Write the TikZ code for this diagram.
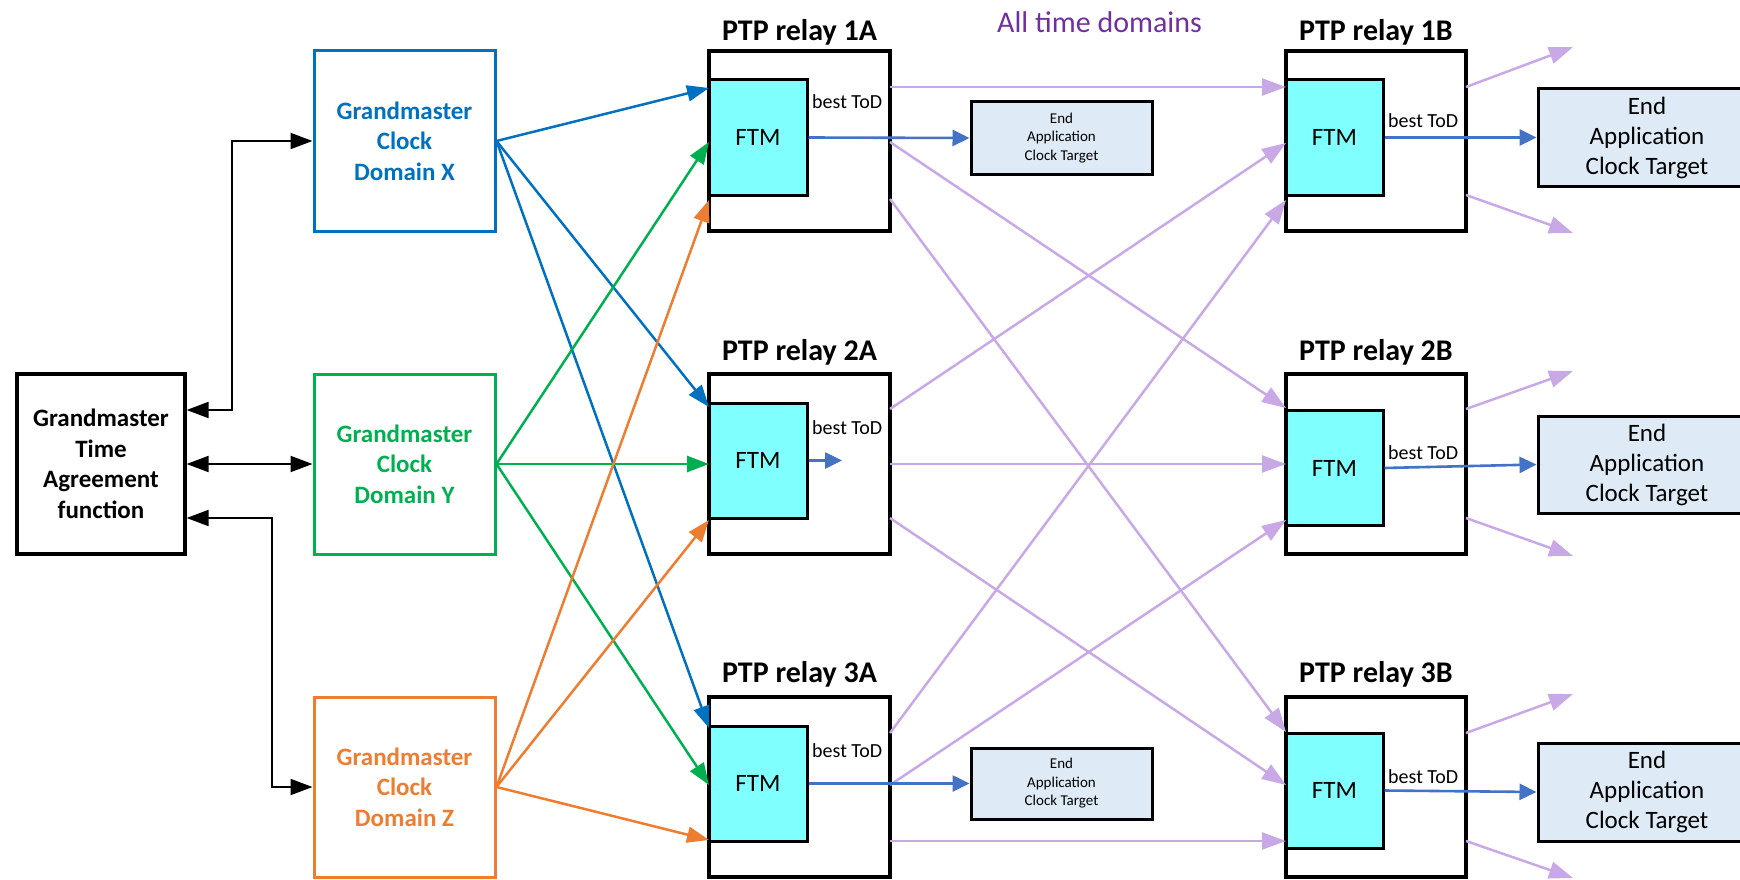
\documentclass[tikz,border=0pt]{standalone}
\usepackage{fontspec}
\setmainfont{Carlito}
\usetikzlibrary{arrows.meta}
\definecolor{cX}{HTML}{0070C0}
\definecolor{cY}{HTML}{00B050}
\definecolor{cZ}{HTML}{ED7D31}
\definecolor{cP}{HTML}{C8A9E6}
\definecolor{cPt}{HTML}{7030A0}
\definecolor{cF}{HTML}{80FFFF}
\definecolor{cE}{HTML}{DEEBF7}
\definecolor{cB}{HTML}{4472C4}
\begin{document}
\begin{tikzpicture}[x=1pt,y=-1pt,
  gm/.style={draw=#1, text=#1, line width=3pt, minimum width=181pt, minimum height=180pt, inner sep=0pt, align=center, font=\fontsize{25}{30.5}\selectfont\bfseries},
  gtabox/.style={draw, line width=3.2pt, minimum width=168pt, minimum height=180pt, inner sep=0pt, align=center, font=\fontsize{25}{30.5}\selectfont\bfseries},
  relay/.style={draw, fill=white, line width=3.4pt, minimum width=#1, minimum height=180pt, inner sep=0pt},
  ftm/.style={draw, fill=cF, line width=3pt, minimum width=#1, minimum height=115pt, inner sep=0pt, font=\fontsize{25}{30}\selectfont},
  endsmall/.style={draw, fill=cE, line width=3pt, minimum width=181pt, inner sep=0pt, align=center, font=\fontsize{15}{18.5}\selectfont},
  endbig/.style={draw, fill=cE, line width=3pt, minimum width=218pt, inner sep=0pt, align=center, font=\fontsize{25}{30}\selectfont},
  title/.style={anchor=base, inner sep=0pt, font=\fontsize{30}{36}\selectfont\bfseries},
  tod/.style={anchor=base west, inner sep=0pt, font=\fontsize{20}{24}\selectfont},
  carr/.style={draw=#1, line width=2.5pt, -{Triangle[length=22pt,width=16pt]}},
  parr/.style={draw=cP, line width=2.5pt, -{Triangle[length=24pt,width=17pt]}},
  barr/.style={draw=cB, line width=2.6pt, -{Triangle[length=17pt,width=16pt]}},
  blk/.style={line width=2pt, {Triangle[length=22pt,width=16pt]}-{Triangle[length=22pt,width=16pt]}}
]
\useasboundingbox (0,0) rectangle (1740,880);

% title of purple links
\node[anchor=base west, inner sep=0pt, text=cPt, font=\fontsize{30}{36}\selectfont] (atd) at (997,33) {All time domains};

% grandmaster boxes
\node[gtabox] (gta) at (101,464) {Grandmaster\\Time\\Agreement\\function};
\node[gm=cX] (gx) at (404.5,141) {Grandmaster\\Clock\\Domain X};
\node[gm=cY] (gy) at (404.5,464) {Grandmaster\\Clock\\Domain Y};
\node[gm=cZ] (gz) at (404.5,787) {Grandmaster\\Clock\\Domain Z};

% relays A
\node[relay=181pt] (r1a) at (799.5,141) {};
\node[relay=181pt] (r2a) at (799.5,464) {};
\node[relay=181pt] (r3a) at (799.5,787) {};
\node[ftm=98pt] (f1a) at (758,137.5) {FTM};
\node[ftm=98pt] (f2a) at (758,460.5) {FTM};
\node[ftm=98pt] (f3a) at (758,783.5) {FTM};
\node[title] (t1a) at (799.5,41) {PTP relay 1A};
\node[title] (t2a) at (799.5,360) {PTP relay 2A};
\node[title] (t3a) at (799.5,682) {PTP relay 3A};
\node[tod] (d1a) at (812,109) {best ToD};
\node[tod] (d2a) at (812,434) {best ToD};
\node[tod] (d3a) at (812,757) {best ToD};

% relays B
\node[relay=180pt] (r1b) at (1376,141) {};
\node[relay=180pt] (r2b) at (1376,464) {};
\node[relay=180pt] (r3b) at (1376,787) {};
\node[ftm=97pt] (f1b) at (1334.5,137.5) {FTM};
\node[ftm=97pt] (f2b) at (1334.5,468) {FTM};
\node[ftm=97pt] (f3b) at (1334.5,790.5) {FTM};
\node[title] (t1b) at (1376,41) {PTP relay 1B};
\node[title] (t2b) at (1376,360) {PTP relay 2B};
\node[title] (t3b) at (1376,682) {PTP relay 3B};
\node[tod] (d1b) at (1388,128) {best ToD};
\node[tod] (d2b) at (1388,459) {best ToD};
\node[tod] (d3b) at (1388,783) {best ToD};

% end application targets
\node[endsmall, minimum height=72pt] (e1a) at (1061.5,138) {End\\Application\\Clock Target};
\node[endsmall, minimum height=71pt] (e3a) at (1061.5,783.5) {End\\Application\\Clock Target};
\node[endbig, minimum height=97pt] (e1b) at (1647,137.5) {End\\Application\\Clock Target};
\node[endbig, minimum height=97pt] (e2b) at (1647,464.5) {End\\Application\\Clock Target};
\node[endbig, minimum height=98pt] (e3b) at (1647,792) {End\\Application\\Clock Target};

% connection points
\coordinate (a1i1) at (709,88);  \coordinate (a1i2) at (709,142); \coordinate (a1i3) at (709,200);
\coordinate (a2i1) at (709,407); \coordinate (a2i2) at (709,464); \coordinate (a2i3) at (709,520);
\coordinate (a3i1) at (709,728); \coordinate (a3i2) at (709,785); \coordinate (a3i3) at (709,840);
\coordinate (a1o1) at (890,87);  \coordinate (a1o2) at (890,142); \coordinate (a1o3) at (890,199);
\coordinate (a2o1) at (890,409); \coordinate (a2o2) at (890,464); \coordinate (a2o3) at (890,518);
\coordinate (a3o1) at (890,733); \coordinate (a3o2) at (890,785); \coordinate (a3o3) at (890,841);
\coordinate (b1i1) at (1286,87);  \coordinate (b1i2) at (1286,143); \coordinate (b1i3) at (1286,200);
\coordinate (b2i1) at (1286,408); \coordinate (b2i2) at (1286,464); \coordinate (b2i3) at (1286,520);
\coordinate (b3i1) at (1286,732); \coordinate (b3i2) at (1286,785); \coordinate (b3i3) at (1286,841);
\coordinate (b1o1) at (1466,87);  \coordinate (b1o3) at (1466,195);
\coordinate (b2o1) at (1466,409); \coordinate (b2o3) at (1466,518);
\coordinate (b3o1) at (1466,733); \coordinate (b3o3) at (1466,841);
\coordinate (x1u) at (1573,47);  \coordinate (x1d) at (1573,233);
\coordinate (x2u) at (1573,371); \coordinate (x2d) at (1573,556);
\coordinate (x3u) at (1573,694); \coordinate (x3d) at (1573,878);
\coordinate (z2a) at (842,460.5);

% agreement function links
\draw[blk] ([yshift=54pt]gta.east) -- ++(45,0) |- (gx.west);
\draw[blk] (gta.east) -- (gy.west);
\draw[blk] ([yshift=-54pt]gta.east) -- ++(85,0) |- (gz.west);

% grandmaster to relays A
\draw[carr=cX] (gx.east) -- (a1i1);
\draw[carr=cX] (gx.east) -- (a2i1);
\draw[carr=cX] (gx.east) -- (a3i1);
\draw[carr=cY] (gy.east) -- (a1i2);
\draw[carr=cY] (gy.east) -- (a2i2);
\draw[carr=cY] (gy.east) -- (a3i2);
\draw[carr=cZ] (gz.east) -- (a1i3);
\draw[carr=cZ] (gz.east) -- (a2i3);
\draw[carr=cZ] (gz.east) -- (a3i3);

% relays A to relays B
\draw[parr] (a1o1) -- (b1i1);
\draw[parr] (a1o2) -- (b2i1);
\draw[parr] (a1o3) -- (b3i1);
\draw[parr] (a2o1) -- (b1i2);
\draw[parr] (a2o2) -- (b2i2);
\draw[parr] (a2o3) -- (b3i2);
\draw[parr] (a3o1) -- (b1i3);
\draw[parr] (a3o2) -- (b2i3);
\draw[parr] (a3o3) -- (b3i3);

% relays B outwards
\draw[parr] (b1o1) -- (x1u);
\draw[parr] (b1o3) -- (x1d);
\draw[parr] (b2o1) -- (x2u);
\draw[parr] (b2o3) -- (x2d);
\draw[parr] (b3o1) -- (x3u);
\draw[parr] (b3o3) -- (x3d);

% best ToD to end applications
\draw[barr] (f1a.east) -- (e1a.west);
\draw[barr] (f2a.east) -- (z2a);
\draw[barr] (f3a.east) -- (e3a.west);
\draw[barr] (f1b.east) -- (e1b.west);
\draw[barr] (f2b.east) -- (e2b.west);
\draw[barr] (f3b.east) -- (e3b.west);
\end{tikzpicture}
\end{document}
